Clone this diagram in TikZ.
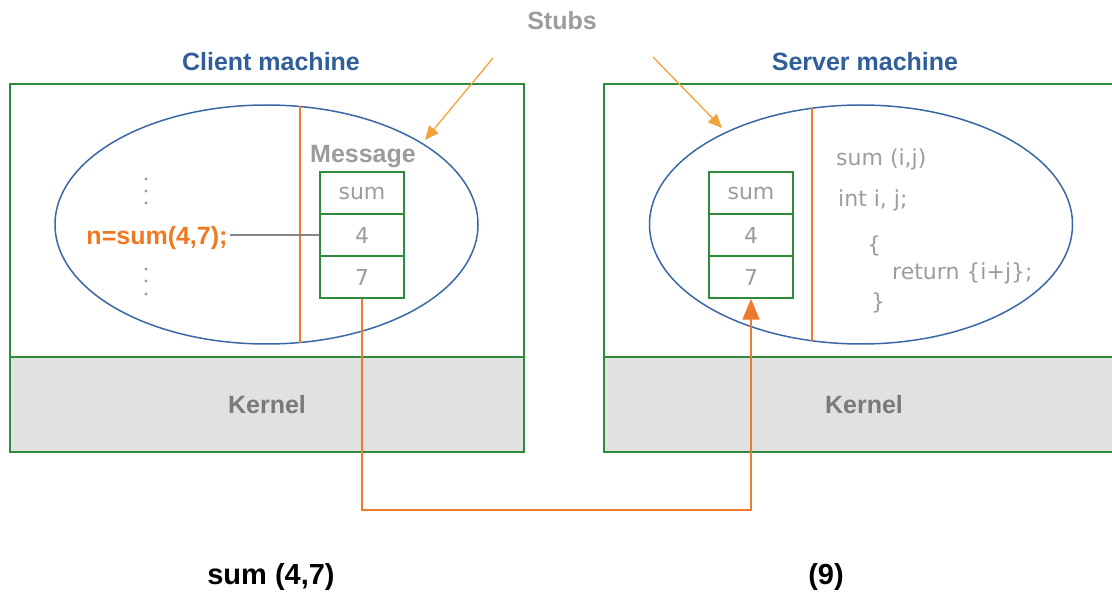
\documentclass[tikz,border=0pt]{standalone}
\usepackage{fontspec}
\setmainfont{Liberation Sans}
\newfontfamily\dvfont{DejaVu Sans}
\usetikzlibrary{shapes.geometric,arrows.meta}
\definecolor{titleblue}{HTML}{2F5E99}
\definecolor{boxgreen}{HTML}{2E8B3A}
\definecolor{ellblue}{HTML}{3A68A6}
\definecolor{lineorange}{HTML}{EE7A30}
\definecolor{stuborange}{HTML}{F2A33A}
\definecolor{txtgray}{HTML}{9C9C9C}
\definecolor{kernelgray}{HTML}{E1E1E1}
\definecolor{kerneltext}{HTML}{7A7A7A}
\definecolor{callorange}{HTML}{F07820}
\definecolor{linkgray}{HTML}{858585}
\begin{document}
\begin{tikzpicture}[x=1pt,y=-1pt,
  title/.style={font=\fontsize{25}{30}\selectfont\bfseries, text=titleblue, inner sep=0pt, anchor=base},
  machine/.style={draw=boxgreen, line width=1.6pt},
  kernelband/.style={fill=kernelgray, inner sep=0pt, minimum width=514pt, minimum height=95pt,
     font=\fontsize{25}{30}\selectfont\bfseries, text=kerneltext},
  kernelline/.style={draw=boxgreen, line width=2.5pt},
  stubell/.style={ellipse, draw=ellblue, line width=1.5pt, minimum width=423pt, minimum height=239pt, inner sep=0pt},
  divider/.style={draw=lineorange, line width=1.5pt},
  cell/.style={draw=boxgreen, line width=1.5pt, minimum width=84pt, minimum height=42pt, inner sep=0pt,
     font=\dvfont\fontsize{22}{26}\selectfont, text=txtgray},
  code/.style={font=\dvfont\fontsize{22}{26}\selectfont, text=txtgray, anchor=base west, inner sep=0pt},
  graybold/.style={font=\fontsize{25}{30}\selectfont\bfseries, text=txtgray, inner sep=0pt, anchor=base},
  callstyle/.style={font=\fontsize{25}{30}\selectfont\bfseries, text=callorange, inner sep=0pt, anchor=base},
  stubarrow/.style={draw=stuborange, line width=1.3pt, -{Triangle[length=14pt,width=12pt]}},
  rpc/.style={draw=lineorange, line width=1.6pt},
  caption/.style={font=\fontsize{29}{34}\selectfont\bfseries, text=black, inner sep=0pt, anchor=base},
  dot/.style={fill=txtgray}
]
\useasboundingbox (0,0) rectangle (1112,596);
\begin{scope}
\clip (0,0) rectangle (1112,596);

% titles
\node[graybold] (stubs) at (562,30) {Stubs};
\node[title] (ctitle) at (271,71) {Client machine};
\node[title] (stitle) at (865,71) {Server machine};

% kernels
\node[kernelband] (ck) at (267,404.5) {Kernel};
\node[kernelband, minimum width=520pt] (sk) at (864,404.5) {Kernel};

% machine boxes
\draw[machine] (10,84) rectangle (524,452);
\draw[machine] (604,84) rectangle (1124,452);
\draw[kernelline] (10,357) -- (524,357);
\draw[kernelline] (604,357) -- (1124,357);

% stub ellipses
\node[stubell] (cell) at (266.5,224.5) {};
\node[stubell] (sell) at (861,224.5) {};

% dividers
\draw[divider] (300,106.5) -- (300,342.5);
\draw[divider] (812,108.3) -- (812,340.7);

% client message
\node[graybold] (msg) at (363,163) {Message};
\node[cell] (csum) at (362,193) {sum};
\node[cell] (c4) at (362,235) {4};
\node[cell] (c7) at (362,277) {7};

% server message
\node[cell] (ssum) at (751,193) {sum};
\node[cell] (s4) at (751,235) {4};
\node[cell] (s7) at (751,277) {7};

% client call
\node[callstyle] (call) at (157,245) {n=sum(4,7);};
\draw[linkgray, line width=2.2pt] (call.east |- c4.west) ++(2,0) -- (c4.west);
\foreach \y in {179,191,203,269,281,294} \fill[dot] (146,\y) circle (1.7pt);

% server code
\node[code] (l1) at (836,166) {sum (i,j)};
\node[code] (l2) at (838,207) {int i, j;};
\node[code] (l3) at (867,253) {\{};
\node[code] (l4) at (892,280) {return \{i+j\};};
\node[code] (l5) at (871,309) {\}};

% stub arrows
\coordinate (stubLs) at (493,58);
\coordinate (stubLt) at (425,140);
\coordinate (stubRs) at (653,57);
\coordinate (stubRt) at (722,128);
\draw[stubarrow] (stubLs) -- (stubLt);
\draw[stubarrow] (stubRs) -- (stubRt);

% rpc connector
\coordinate (bend) at (362,510);
\draw[rpc, -{Triangle[length=21pt,width=17pt]}] (c7.south) -- (bend) -| (s7.south);

% captions
\node[caption] (cap1) at (271,584) {sum (4,7)};
\node[caption] (cap2) at (826,584) {(9)};
\end{scope}
\end{tikzpicture}
\end{document}
